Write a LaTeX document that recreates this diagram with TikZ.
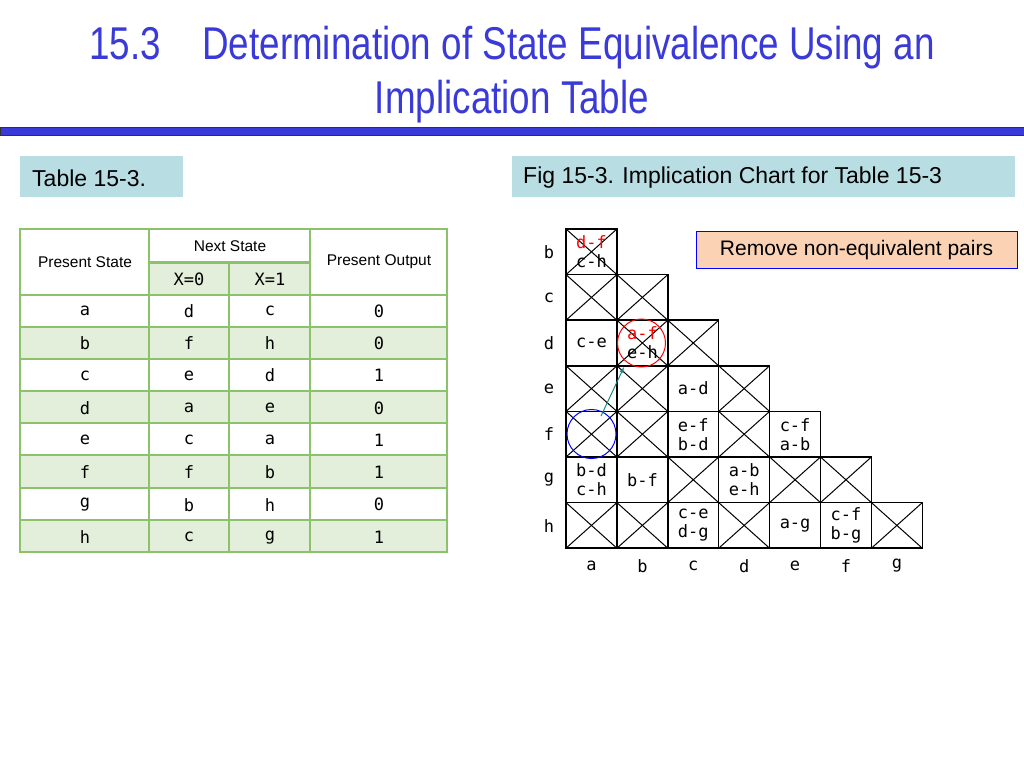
\documentclass[tikz,border=0pt]{standalone}
\usepackage{fontspec}
\setmainfont{Liberation Sans}
\newfontfamily\titlefont[FakeStretch=0.8]{Liberation Sans}
\newfontfamily\mono{DejaVu Sans Mono}
\definecolor{tblue}{HTML}{3A3AD8}
\definecolor{gline}{HTML}{8CC26A}
\definecolor{gfill}{HTML}{E3EFDA}
\definecolor{hfill}{HTML}{B8DEE4}
\definecolor{pfill}{HTML}{FBD3B4}
\definecolor{teal2}{HTML}{1A8A80}
\begin{document}
\begin{tikzpicture}[x=1pt,y=-1pt,
  cellt/.style={font=\mono\fontsize{17}{19}\selectfont,align=center,inner sep=0pt},
  tt/.style={font=\mono\fontsize{17}{19}\selectfont,inner sep=0pt},
  st/.style={font=\fontsize{15.5}{18}\selectfont,inner sep=0pt},
  hdr/.style={font=\fontsize{23}{26}\selectfont,anchor=west,inner sep=0pt}]
\useasboundingbox (0,0) rectangle (1024,768);
% title
\node[font=\titlefont\fontsize{46}{54}\selectfont,text=tblue,align=center] (title) at (512,75) {15.3\hspace{0.9em}Determination of State Equivalence Using an\\Implication Table};
\draw[fill=tblue,draw=black!80,line width=1pt] (0,127) rectangle (1024,135);
% header boxes
\fill[hfill] (20,156) rectangle (183,197);
\node[hdr] (h1) at (32,178) {Table 15-3.};
\fill[hfill] (512,156) rectangle (1015,197);
\node[hdr] (h2) at (523,178) {Fig 15-3. Implication Chart for Table 15-3};
% table
\foreach \y in {327,391,455,520} \fill[gfill] (20,\y) rectangle (447,\y+32.4);
\fill[gfill] (149,262) rectangle (310,295);
\draw[gline,line width=1.5pt] (20,229) rectangle (447,552);
\foreach \x in {149,310} \draw[gline,line width=1.5pt] (\x,229) -- (\x,552);
\draw[gline,line width=1.5pt] (229,262) -- (229,552);
\draw[gline,line width=3pt] (149,262) -- (310,262);
\foreach \y in {295,327,359,391,423,455,488,520} \draw[gline,line width=1.5pt] (20,\y) -- (447,\y);
\node[st] (ps) at (85,262) {Present State};
\node[st] (ns) at (230,246) {Next State};
\node[st] (po) at (379,262) {Present Output};
\node[tt] (x0) at (189,279) {X=0};
\node[tt] (x1) at (270,279) {X=1};
\foreach \s/\a/\b/\o [count=\i from 0] in {a/d/c/0,b/f/h/0,c/e/d/1,d/a/e/0,e/c/a/1,f/f/b/1,g/b/h/0,h/c/g/1}{
  \node[tt] (r\i s) at (85,311+32.3*\i) {\s};
  \node[tt] (r\i a) at (189,311+32.3*\i) {\a};
  \node[tt] (r\i b) at (270,311+32.3*\i) {\b};
  \node[tt] (r\i o) at (379,311+32.3*\i) {\o};
}
% chart
\foreach \r in {0,...,6}{
  \foreach \c in {0,...,\r}{
    \draw[line width=1.5pt] ({566+50.9*\c},{229+45.6*\r}) rectangle ({566+50.9*(\c+1)},{229+45.6*(\r+1)});
  }
}
\foreach \r/\c in {0/0,1/0,1/1,2/1,2/2,3/0,3/1,3/3,4/0,4/1,4/3,5/2,5/4,5/5,6/0,6/1,6/3,6/6}{
  \draw[line width=1pt] ({566+50.9*\c},{229+45.6*\r}) -- ({566+50.9*(\c+1)},{229+45.6*(\r+1)});
  \draw[line width=1pt] ({566+50.9*(\c+1)},{229+45.6*\r}) -- ({566+50.9*\c},{229+45.6*(\r+1)});
}
\foreach \l [count=\i from 0] in {b,c,d,e,f,g,h}
  \node[tt] (rl\l) at (549,{252+45.6*\i}) {\l};
\foreach \l [count=\i from 0] in {a,b,c,d,e,f,g}
  \node[tt] (cl\l) at ({591.5+50.9*\i},566) {\l};
\newcommand\cellat[3]{\node[cellt] (#3) at ({591.5+50.9*#2},{251.8+45.6*#1}) }
\cellat{0}{0}{ba}{\textcolor{red}{d-f}\\c-h};
\cellat{2}{0}{da}{c-e};
\cellat{2}{1}{db}{\textcolor{red}{a-f}\\e-h};
\cellat{3}{2}{ec}{a-d};
\cellat{4}{2}{fc}{e-f\\b-d};
\cellat{4}{4}{fe}{c-f\\a-b};
\cellat{5}{0}{ga}{b-d\\c-h};
\cellat{5}{1}{gb}{b-f};
\cellat{5}{3}{gd}{a-b\\e-h};
\cellat{6}{2}{hc}{c-e\\d-g};
\cellat{6}{4}{he}{a-g};
\cellat{6}{5}{hf}{c-f\\b-g};
\draw[red,line width=1pt] (641.5,343) circle (24);
\node[draw=blue,line width=1pt,circle,minimum size=49pt,inner sep=0pt] (bc) at (591.5,434) {};
\coordinate (as) at (601,416);
\coordinate (ae) at (624,367);
\draw[teal2,line width=1pt,-latex] (as) -- (ae);
% remove box
\node[draw=blue,line width=1pt,fill=pfill,minimum width=321pt,minimum height=37pt,font=\fontsize{21}{24}\selectfont,inner sep=0pt] (rm) at (856.5,250) {Remove non-equivalent pairs};
\end{tikzpicture}
\end{document}
